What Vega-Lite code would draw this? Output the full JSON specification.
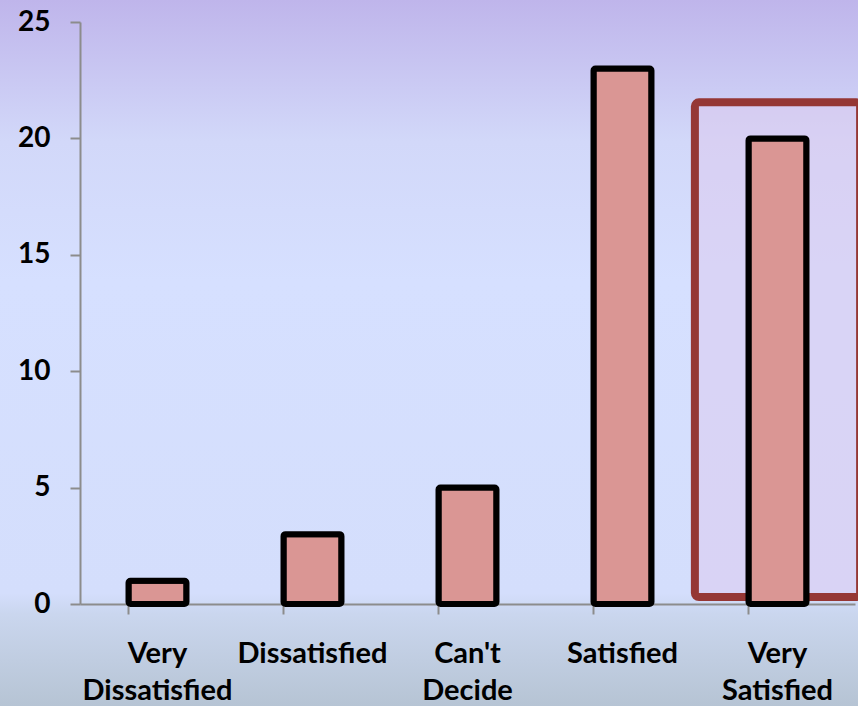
{
  "$schema": "https://vega.github.io/schema/vega-lite/v6.json",
  "width": 858,
  "height": 706,
  "padding": 0,
  "autosize": {"type": "none"},
  "background": "#D6E0FF",
  "config": {
    "font": "Lato",
    "view": {
      "stroke": null,
      "fill": {
        "gradient": "linear",
        "x1": 0, "y1": 0, "x2": 0, "y2": 1,
        "stops": [
          {"offset": 0, "color": "#BFB5EB"},
          {"offset": 0.2, "color": "#D2D8F9"},
          {"offset": 0.4, "color": "#D6E0FF"},
          {"offset": 0.84, "color": "#D4DEFC"},
          {"offset": 0.87, "color": "#CAD6EE"},
          {"offset": 1, "color": "#B6C4D4"}
        ]
      }
    }
  },
  "data": {
    "values": [
      {"category": "Very Dissatisfied", "count": 1},
      {"category": "Dissatisfied", "count": 3},
      {"category": "Can't Decide", "count": 5},
      {"category": "Satisfied", "count": 23},
      {"category": "Very Satisfied", "count": 20}
    ]
  },
  "resolve": {"axis": {"x": "independent"}},
  "layer": [
    {
      "mark": {"type": "rule", "opacity": 0},
      "encoding": {
        "x": {
          "field": "category",
          "type": "nominal",
          "scale": {
            "domain": ["Very Dissatisfied", "Dissatisfied", "Can't Decide", "Satisfied", "Very Satisfied"],
            "range": [80, 855],
            "paddingInner": 0.626,
            "paddingOuter": 0.313
          },
          "axis": {
            "orient": "bottom",
            "offset": -102,
            "title": null,
            "labels": false,
            "bandPosition": 0,
            "tickSize": 10,
            "tickColor": "#8C8C8C",
            "tickWidth": 2,
            "domainColor": "#8C8C8C",
            "domainWidth": 2
          }
        }
      }
    },
    {
      "data": {"values": [{"category": "Very Satisfied"}]},
      "mark": {
        "type": "bar",
        "width": {"band": 2.85},
        "fill": "#DCCBEE",
        "fillOpacity": 0.55,
        "stroke": "#953735",
        "strokeWidth": 8,
        "cornerRadius": 4
      },
      "encoding": {
        "x": {"field": "category", "type": "nominal", "axis": null},
        "y": {"datum": 21.55, "type": "quantitative", "scale": {"domain": [0, 25], "range": [604, 22]}},
        "y2": {"datum": 0.3}
      }
    },
    {
      "mark": {
        "type": "bar",
        "fill": "#DA9694",
        "stroke": "#000000",
        "strokeWidth": 6,
        "strokeJoin": "round",
        "cornerRadius": 2
      },
      "encoding": {
        "x": {
          "field": "category",
          "type": "nominal",
          "axis": {
            "orient": "bottom",
            "offset": -102,
            "title": null,
            "labelExpr": "split(datum.label, ' ')",
            "labelAngle": 0,
            "labelFont": "Lato",
            "labelFontWeight": "bold",
            "labelFontSize": 29,
            "labelColor": "#000000",
            "labelLineHeight": 37,
            "labelPadding": 35,
            "ticks": false,
            "domain": false
          }
        },
        "y": {
          "field": "count",
          "type": "quantitative",
          "scale": {"domain": [0, 25], "range": [604, 22]},
          "axis": {
            "orient": "left",
            "offset": -80,
            "title": null,
            "values": [0, 5, 10, 15, 20, 25],
            "grid": false,
            "labelFont": "Lato",
            "labelFontWeight": "bold",
            "labelFontSize": 28,
            "labelColor": "#000000",
            "labelPadding": 20,
            "tickSize": 10,
            "tickColor": "#8C8C8C",
            "tickWidth": 2,
            "domainColor": "#8C8C8C",
            "domainWidth": 2
          }
        }
      }
    }
  ]
}
